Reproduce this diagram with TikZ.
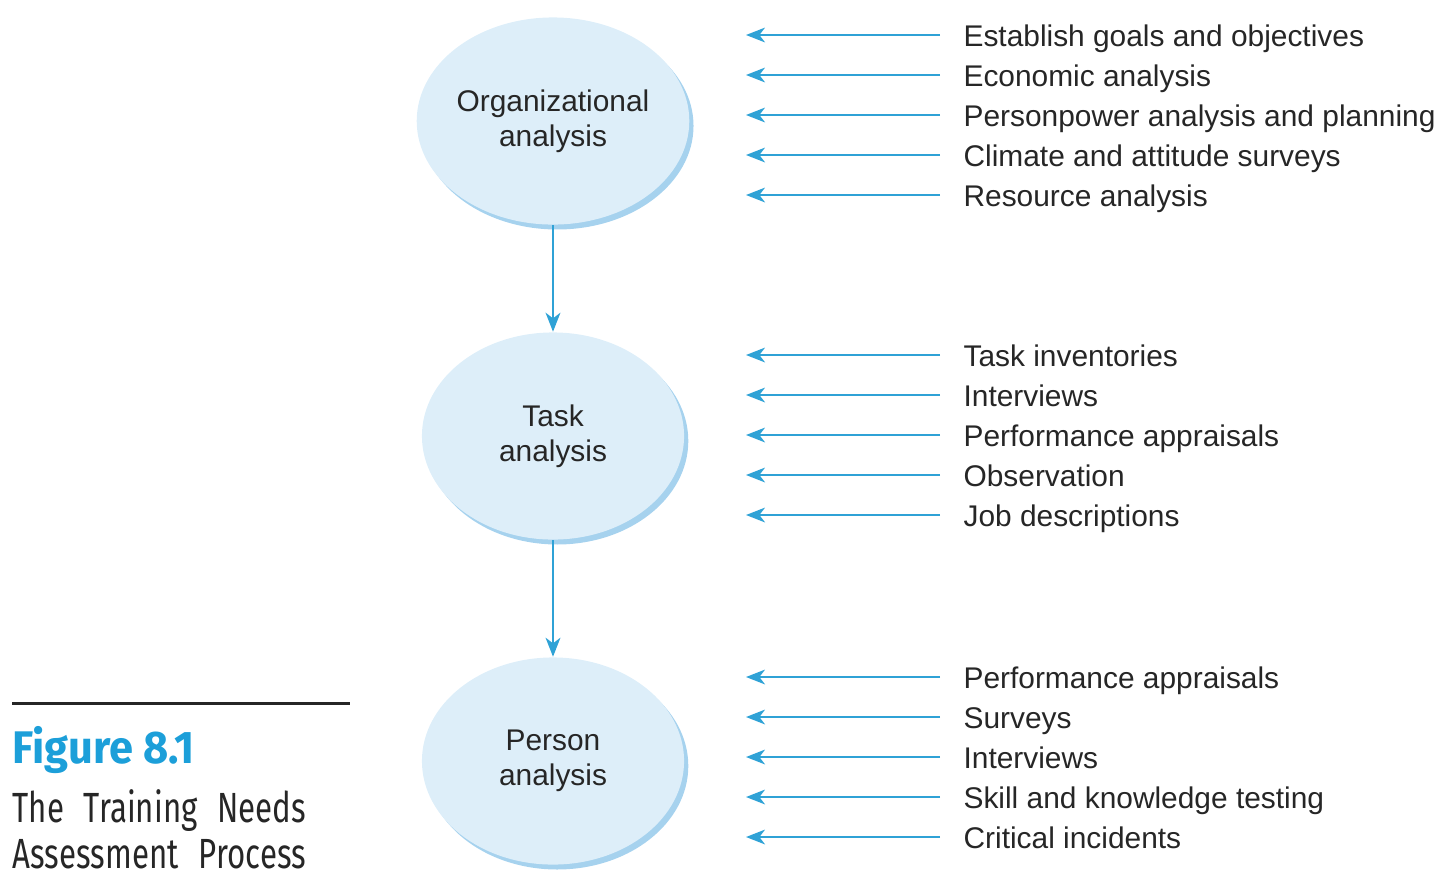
\documentclass[tikz,border=0pt]{standalone}
\usepackage{fontspec}
\setmainfont{Liberation Sans}
\newfontfamily\capfont[FakeStretch=0.74]{Fira Sans}
\newfontfamily\capnumfont[FakeStretch=0.95]{Fira Sans}
\usetikzlibrary{arrows.meta,shapes.geometric,shadows}

\definecolor{arrowblue}{HTML}{2FA2D6}
\definecolor{bubblefill}{HTML}{DDEEF9}
\definecolor{bubbleedge}{HTML}{A6D2EE}
\definecolor{figblue}{HTML}{1C9FD9}
\definecolor{inktext}{HTML}{262626}

\begin{document}
\begin{tikzpicture}[x=0.01cm,y=-0.01cm]

\tikzstyle{every node}=[font=\fontsize{8.5}{10}\selectfont,text=inktext]
\tikzstyle{stage}=[ellipse,fill=bubblefill,minimum width=2.62cm,minimum height=2.07cm,inner sep=0pt,align=center,
  drop shadow={shadow xshift=1.2pt,shadow yshift=-1.4pt,fill=bubbleedge,opacity=1}]
\tikzstyle{method}=[anchor=west,inner xsep=6.5pt,inner ysep=0pt,text height=0.66em,text depth=0pt]
\tikzstyle{feed}=[arrowblue,line width=0.6pt,-{Stealth[length=5.4pt,width=4.2pt,inset=1.6pt]}]
\tikzstyle{caption}=[anchor=base west,inner sep=0pt]

\useasboundingbox (0,0) rectangle (1440,881);

% the three stages
\node[stage] (org) at (553,121) {Organizational\\analysis};
\node[stage] (task) at (553,436) {Task\\analysis};
\node[stage] (person) at (553,761) {Person\\analysis};
\draw[feed,line width=0.75pt] (org) -- (task);
\draw[feed,line width=0.75pt] (task) -- (person);

% organizational analysis
\node[method] (o1) at (940,35) {Establish goals and objectives};
\node[method] (o2) at (940,75) {Economic analysis};
\node[method] (o3) at (940,115) {Personpower analysis and planning};
\node[method] (o4) at (940,155) {Climate and attitude surveys};
\node[method] (o5) at (940,195) {Resource analysis};
\coordinate (o1end) at (746,35);
\coordinate (o2end) at (746,75);
\coordinate (o3end) at (746,115);
\coordinate (o4end) at (746,155);
\coordinate (o5end) at (746,195);
\draw[feed] (o1) -- (o1end);
\draw[feed] (o2) -- (o2end);
\draw[feed] (o3) -- (o3end);
\draw[feed] (o4) -- (o4end);
\draw[feed] (o5) -- (o5end);

% task analysis
\node[method] (t1) at (940,355) {Task inventories};
\node[method] (t2) at (940,395) {Interviews};
\node[method] (t3) at (940,435) {Performance appraisals};
\node[method] (t4) at (940,475) {Observation};
\node[method] (t5) at (940,515) {Job descriptions};
\coordinate (t1end) at (746,355);
\coordinate (t2end) at (746,395);
\coordinate (t3end) at (746,435);
\coordinate (t4end) at (746,475);
\coordinate (t5end) at (746,515);
\draw[feed] (t1) -- (t1end);
\draw[feed] (t2) -- (t2end);
\draw[feed] (t3) -- (t3end);
\draw[feed] (t4) -- (t4end);
\draw[feed] (t5) -- (t5end);

% person analysis
\node[method] (p1) at (940,677) {Performance appraisals};
\node[method] (p2) at (940,717) {Surveys};
\node[method] (p3) at (940,757) {Interviews};
\node[method] (p4) at (940,797) {Skill and knowledge testing};
\node[method] (p5) at (940,837) {Critical incidents};
\coordinate (p1end) at (746,677);
\coordinate (p2end) at (746,717);
\coordinate (p3end) at (746,757);
\coordinate (p4end) at (746,797);
\coordinate (p5end) at (746,837);
\draw[feed] (p1) -- (p1end);
\draw[feed] (p2) -- (p2end);
\draw[feed] (p3) -- (p3end);
\draw[feed] (p4) -- (p4end);
\draw[feed] (p5) -- (p5end);

% caption
\draw[line width=0.85pt,inktext] (12,703) -- (350,703);
\node[caption,font=\capnumfont\bfseries\fontsize{13}{14}\selectfont,text=figblue] (figno) at (12,763) {Figure 8.1};
\node[caption,font=\capfont\fontsize{12}{13}\selectfont] (figline1) at (12,822) {\makebox[2.93cm][s]{The Training Needs}};
\node[caption,font=\capfont\fontsize{12}{13}\selectfont] (figline2) at (12,868) {\makebox[2.93cm][s]{Assessment Process}};

\end{tikzpicture}
\end{document}
